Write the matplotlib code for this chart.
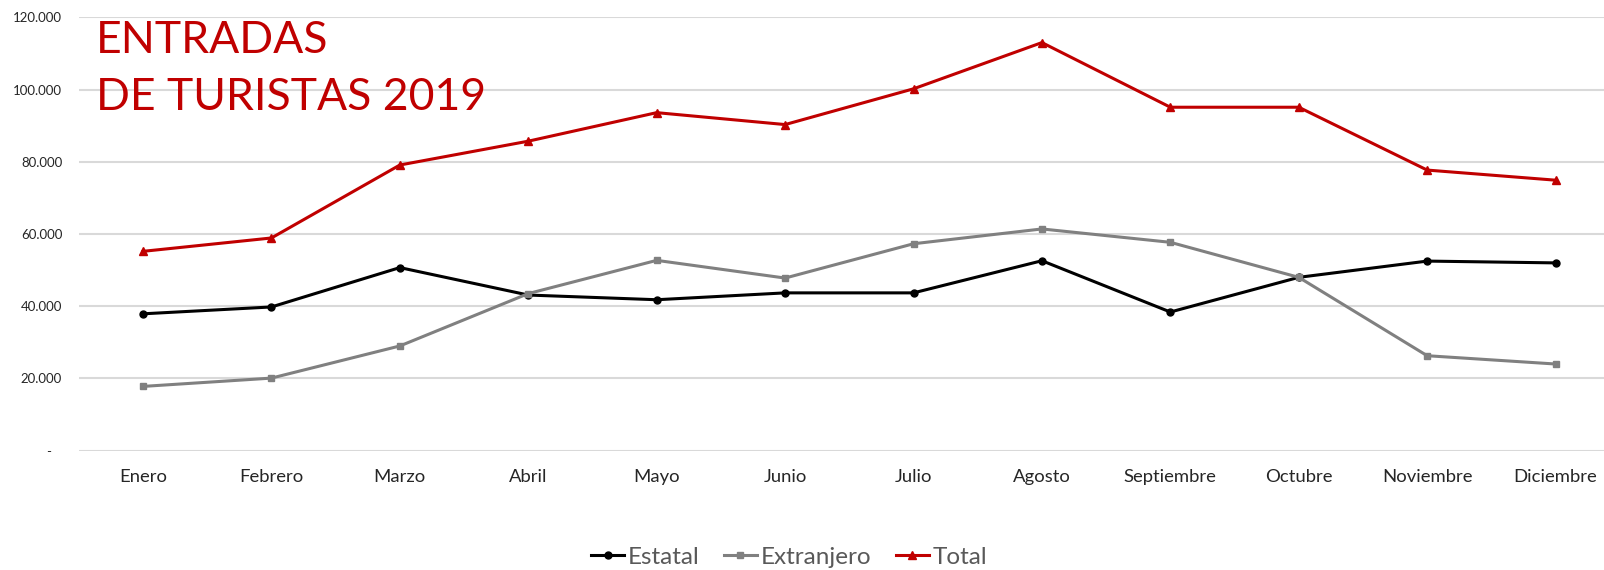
import matplotlib
matplotlib.use("Agg")
import matplotlib.pyplot as plt
from matplotlib.ticker import FuncFormatter

plt.rcParams["font.family"] = ["Lato", "DejaVu Sans"]

meses = ["Enero", "Febrero", "Marzo", "Abril", "Mayo", "Junio", "Julio",
         "Agosto", "Septiembre", "Octubre", "Noviembre", "Diciembre"]
estatal = [37900, 39800, 50700, 43100, 41800, 43700, 43700, 52600, 38400, 48000, 52500, 52000]
extranjero = [17800, 20100, 29000, 43500, 52700, 47800, 57300, 61400, 57700, 48000, 26300, 24000]
total = [55200, 58900, 79100, 85700, 93600, 90300, 100200, 113000, 95100, 95100, 77700, 74900]

W, H = 1604, 570
fig = plt.figure(figsize=(W / 100, H / 100), dpi=100)
# plot area runs a little past the right edge, as in the original crop
ax = fig.add_axes([78.8 / W, (H - 450.7) / H, 1541 / W, 433.4 / H])

x = list(range(len(meses)))
ax.plot(x, estatal, color="black", lw=2.2, marker="o", ms=5, label="Estatal")
ax.plot(x, extranjero, color="#808080", lw=2.2, marker="s", ms=5, label="Extranjero")
ax.plot(x, total, color="#C00000", lw=2.2, marker="^", ms=5.5, label="Total")

ax.set_xlim(-0.5, len(meses) - 0.5)
ax.set_ylim(0, 120000)
ax.set_yticks(range(0, 120001, 20000))
ax.yaxis.set_major_formatter(FuncFormatter(
    lambda v, p: "-   " if v == 0 else f"{int(v):,}".replace(",", ".")))
ax.set_xticks(x)
ax.set_xticklabels(meses)
ax.grid(axis="y", color="#D9D9D9", lw=1.5)
ax.set_axisbelow(True)
for s in ax.spines.values():
    s.set_visible(False)
ax.tick_params(axis="y", length=0, labelsize=9.5, pad=12, colors="#262626")
ax.tick_params(axis="x", length=0, labelsize=13.3, pad=13, colors="#262626")

fig.text(96 / W, 1 - 20.3 / H, "ENTRADAS\nDE TURISTAS 2019", color="#C00000",
         fontsize=32, va="top", ha="left", linespacing=1.49)

fig.legend(loc="center", bbox_to_anchor=(789 / W, 1 - 557 / H), ncol=3,
           frameon=False, fontsize=17.5, handlelength=1.36, handletextpad=0.15,
           columnspacing=1.0, labelcolor="#595959")

fig.savefig("out.png", dpi=100)
